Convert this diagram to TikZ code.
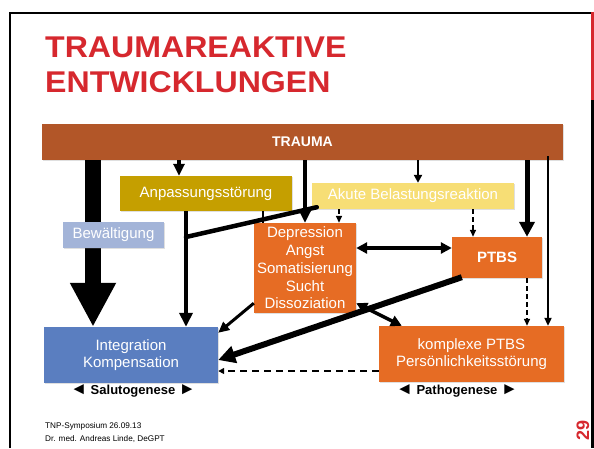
\documentclass[tikz,border=0pt]{standalone}
\usepackage{fontspec}
\setmainfont{Liberation Sans}
\usetikzlibrary{arrows.meta,shadows}

\definecolor{titlered}{RGB}{214,40,46}
\definecolor{traumabrown}{RGB}{178,86,40}
\definecolor{anpassgold}{RGB}{197,159,0}
\definecolor{akuteyellow}{RGB}{247,222,117}
\definecolor{bewaeltblue}{RGB}{163,180,216}
\definecolor{reactorange}{RGB}{230,108,36}
\definecolor{integrblue}{RGB}{90,126,192}

\newcommand{\tri}[1]{{\fontsize{17}{15}\selectfont\raisebox{-0.6pt}{#1}}}

\tikzset{
  box/.style={rectangle,inner sep=0pt,align=center,text=white,
    font=\fontsize{15}{17.8}\selectfont,
    drop shadow={shadow xshift=1.2pt,shadow yshift=-1.2pt,opacity=0.25}},
  dashedarr/.style={line width=1.5pt,dash pattern=on 5pt off 3pt,
    -{Triangle[width=6pt,length=7pt]}},
  genese/.style={font=\fontsize{13}{15}\selectfont\bfseries}
}

\begin{document}
\begin{tikzpicture}[x=1pt,y=-1pt]
  \useasboundingbox (0,0) rectangle (594,448);
  % frame of the slide
  \draw[line width=2pt] (10,448) -- (10,12.5) -- (591,12.5);
  \draw[line width=3pt,titlered] (592.5,11.5) -- (592.5,100);
  \draw[line width=3pt] (592.5,100) -- (592.5,448);
  % title
  \node[anchor=base west,inner sep=0pt,text=titlered,font=\fontsize{30}{34}\selectfont\bfseries]
    (title) at (45,57) {\scalebox{1.07}[1]{TRAUMAREAKTIVE}};
  \node[anchor=base west,inner sep=0pt,text=titlered,font=\fontsize{30}{34}\selectfont\bfseries]
    (title2) at (45,92) {\scalebox{1.07}[1]{ENTWICKLUNGEN}};

  % boxes
  \node[box,fill=traumabrown,minimum width=521pt,minimum height=36pt,
    font=\fontsize{14}{16}\selectfont\bfseries] (trauma) at (302.5,142) {TRAUMA};
  \node[box,fill=anpassgold,minimum width=172pt,minimum height=35pt] (anpass) at (206,193.5) {Anpassungsstörung};
  \node[box,fill=akuteyellow,minimum width=202pt,minimum height=26pt] (akute) at (413,196) {Akute Belastungsreaktion};
  \node[box,fill=reactorange,minimum width=102pt,minimum height=90pt] (depr) at (305,268)
    {Depression\\Angst\\Somatisierung\\Sucht\\Dissoziation};
  \node[box,fill=reactorange,minimum width=90pt,minimum height=41pt,
    font=\fontsize{15}{17}\selectfont\bfseries] (ptbs) at (497,257.5) {PTBS};
  \node[box,fill=integrblue,minimum width=174pt,minimum height=56pt,
    font=\fontsize{15}{17.5}\selectfont] (integr) at (131,355) {Integration\\Kompensation};
  \node[box,fill=reactorange,minimum width=185pt,minimum height=56pt,
    font=\fontsize{15}{17.5}\selectfont] (komplex) at (471.5,354) {komplexe PTBS\\Persönlichkeitsstörung};

  % big arrow behind Bewaeltigung
  \draw[line width=16pt,-{Triangle[width=43pt,length=44pt]}] (93,0 |- trauma.south) -- (93,0 |- integr.north);
  \node[box,fill=bewaeltblue,minimum width=101pt,minimum height=26pt] (bewaelt) at (113.5,235) {Bewältigung};

  % arrows from TRAUMA
  \draw[line width=3.5pt,-{Triangle[width=11pt,length=12pt]}] (179,0 |- trauma.south) -- (179,0 |- anpass.north);
  \draw[line width=4pt,-{Triangle[width=11pt,length=12pt]}] (305,0 |- trauma.south) -- (305,0 |- depr.north);
  \draw[line width=2pt,-{Triangle[width=8pt,length=8pt]}] (418,0 |- trauma.south) -- (418,0 |- akute.north);
  \draw[line width=5pt,-{Triangle[width=15pt,length=15pt]}] (527,0 |- trauma.south) -- (527,0 |- ptbs.north);
  \draw[line width=2pt,shorten <=-4pt,-{Triangle[width=7pt,length=8pt]}] (548,0 |- trauma.south) -- (548,0 |- komplex.north);

  % Anpassungsstoerung and Akute to Integration
  \coordinate (join) at (186,237);
  \draw[line width=4.5pt,-{Triangle[width=13pt,length=14pt]}] (186,0 |- anpass.south) -- (186,0 |- integr.north);
  \draw[line width=4.5pt,line cap=round] ([shift={(5,-2)}]akute.south west) -- (join);
  \draw[line width=2pt] (263,0 |- anpass.south) -- (263,0 |- depr.north);

  % dashed arrows
  \draw[dashedarr] (339,0 |- akute.south) -- (339,0 |- depr.north);
  \draw[dashedarr] (473,0 |- akute.south) -- (473,0 |- ptbs.north);
  \draw[dashedarr] (527,0 |- ptbs.south) -- (527,0 |- komplex.north);
  \draw[line width=1.5pt,dash pattern=on 7pt off 5pt,-{Triangle[width=6pt,length=6pt]}]
    ([yshift=-17pt]komplex.west) -- ([yshift=-16pt]integr.east);

  % between the reactions
  \draw[line width=3.5pt,{Triangle[width=11pt,length=11pt]}-{Triangle[width=11pt,length=11pt]}]
    (depr.east |- 0,248) -- (ptbs.west |- 0,248);
  \draw[line width=6pt,-{Triangle[width=17pt,length=17pt]}] ([xshift=10pt,yshift=1pt]ptbs.south west) -- ([yshift=-5pt]integr.east);
  \draw[line width=3pt,-{Triangle[width=10pt,length=11pt]}] ([yshift=10pt]depr.south west) -- ([yshift=-6pt]integr.north east);
  \draw[line width=3.5pt,{Triangle[width=11pt,length=11pt]}-{Triangle[width=11pt,length=11pt]}]
    ([yshift=10pt]depr.south east) -- ([xshift=23pt]komplex.north west);

  % labels below
  \node[genese] (saluto) at (133,391) {\tri{◄} Salutogenese \tri{►}};
  \node[genese] (patho) at (457,391) {\tri{◄} Pathogenese \tri{►}};

  % footer
  \node[anchor=west,inner sep=0pt,font=\fontsize{8.2}{10}\selectfont] (footA) at (45,426) {TNP-Symposium 26.09.13};
  \node[anchor=west,inner sep=0pt,font=\fontsize{8.2}{10}\selectfont] (footB) at (45,439.5) {Dr. med. Andreas Linde, DeGPT};
  \node[rotate=90,inner sep=0pt,text=titlered,font=\fontsize{18}{20}\selectfont\bfseries] (pagenr) at (583,430) {29};
\end{tikzpicture}
\end{document}
